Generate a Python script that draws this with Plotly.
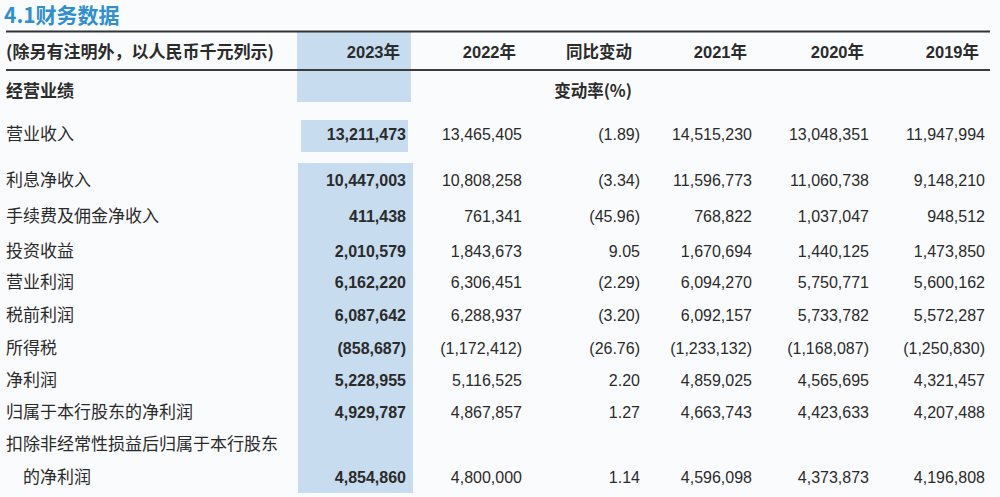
import plotly.graph_objects as go

# ---------------- data ----------------
title_text = "4.1财务数据"
unit_note = "(除另有注明外，以人民币千元列示)"
section_label = "经营业绩"
yoy_unit = "变动率(%)"
col_headers = ["2023年", "2022年", "同比变动", "2021年", "2020年", "2019年"]

row_labels = ["营业收入", "利息净收入", "手续费及佣金净收入", "投资收益", "营业利润",
              "税前利润", "所得税", "净利润", "归属于本行股东的净利润",
              "扣除非经常性损益后归属于本行股东"]
last_label_cont = "的净利润"

v2023 = [13211473, 10447003, 411438, 2010579, 6162220, 6087642, -858687, 5228955, 4929787, 4854860]
v2022 = [13465405, 10808258, 761341, 1843673, 6306451, 6288937, -1172412, 5116525, 4867857, 4800000]
yoy = [-1.89, -3.34, -45.96, 9.05, -2.29, -3.20, -26.76, 2.20, 1.27, 1.14]
v2021 = [14515230, 11596773, 768822, 1670694, 6094270, 6092157, -1233132, 4859025, 4663743, 4596098]
v2020 = [13048351, 11060738, 1037047, 1440125, 5750771, 5733782, -1168087, 4565695, 4423633, 4373873]
v2019 = [11947994, 9148210, 948512, 1473850, 5600162, 5572287, -1250830, 4321457, 4207488, 4196808]

# ---------------- layout constants ----------------
W, H = 1000, 497
ROW_Y = [136, 182, 218, 253, 284, 317, 350, 382, 414, 479]
LABEL_Y = [136, 182, 218, 253, 284, 317, 350, 382, 414, 446]
CONT_Y = 479
HEADER_Y = 54
SECTION_Y = 93
COL_X = [406, 522, 640, 752, 869, 985]
HEAD_X = [400, 516, 632, 747, 864, 979]
LABEL_X = 6
CONT_X = 23

TXT = "#2b2b2b"
NUM_FONT = "Liberation Sans, Noto Sans CJK SC, sans-serif"
CJK_FONT = "Noto Sans CJK SC, sans-serif"
HL = "#c8dcef"


def fmt_int(v):
    s = f"{abs(v):,}"
    return f"({s})" if v < 0 else s


def fmt_pct(v):
    s = f"{abs(v):.2f}"
    return f"({s})" if v < 0 else s


fig = go.Figure()

# value columns
cols = [v2023, v2022, yoy, v2021, v2020, v2019]
for ci, vals in enumerate(cols):
    if ci == 2:
        texts = [fmt_pct(v) for v in vals]
    else:
        texts = [fmt_int(v) for v in vals]
    if ci == 0:
        texts = [f"<b>{t}</b>" for t in texts]
    fig.add_trace(go.Scatter(
        x=[COL_X[ci]] * len(vals), y=ROW_Y, mode="text", text=texts,
        textposition="middle left", cliponaxis=False,
        textfont=dict(family=NUM_FONT, size=16, color=TXT),
        hoverinfo="skip", showlegend=False))

# row labels
fig.add_trace(go.Scatter(
    x=[LABEL_X] * len(row_labels), y=LABEL_Y, mode="text", text=row_labels,
    textposition="middle right", cliponaxis=False,
    textfont=dict(family=CJK_FONT, size=17, color=TXT),
    hoverinfo="skip", showlegend=False))
fig.add_trace(go.Scatter(
    x=[CONT_X], y=[CONT_Y], mode="text", text=[last_label_cont],
    textposition="middle right", cliponaxis=False,
    textfont=dict(family=CJK_FONT, size=17, color=TXT),
    hoverinfo="skip", showlegend=False))

# header row
fig.add_trace(go.Scatter(
    x=HEAD_X, y=[HEADER_Y] * len(col_headers), mode="text",
    text=[f"<b>{h}</b>" for h in col_headers],
    textposition="middle left", cliponaxis=False,
    textfont=dict(family=NUM_FONT, size=16.5, color=TXT),
    hoverinfo="skip", showlegend=False))
fig.add_trace(go.Scatter(
    x=[LABEL_X, LABEL_X], y=[HEADER_Y, SECTION_Y], mode="text",
    text=[f"<b>{unit_note}</b>", f"<b>{section_label}</b>"],
    textposition="middle right", cliponaxis=False,
    textfont=dict(family=CJK_FONT, size=17, color=TXT),
    hoverinfo="skip", showlegend=False))
fig.add_trace(go.Scatter(
    x=[HEAD_X[2]], y=[SECTION_Y], mode="text", text=[f"<b>{yoy_unit}</b>"],
    textposition="middle left", cliponaxis=False,
    textfont=dict(family=CJK_FONT, size=16.5, color=TXT),
    hoverinfo="skip", showlegend=False))

# title
fig.add_trace(go.Scatter(
    x=[4], y=[18], mode="text", text=[f"<b>{title_text}</b>"],
    textposition="middle right", cliponaxis=False,
    textfont=dict(family=CJK_FONT, size=21, color="#2f8fd2"),
    hoverinfo="skip", showlegend=False))

shapes = [
    dict(type="rect", x0=297, x1=411, y0=31, y1=102, fillcolor=HL, line_width=0, layer="below"),
    dict(type="rect", x0=301, x1=408, y0=120, y1=152, fillcolor=HL, line_width=0, layer="below"),
    dict(type="rect", x0=298, x1=413, y0=163, y1=493, fillcolor=HL, line_width=0, layer="below"),
    dict(type="line", x0=6, x1=990, y0=31.5, y1=31.5, line=dict(color="#333333", width=2)),
    dict(type="line", x0=6, x1=990, y0=70, y1=70, line=dict(color="#3c3c3c", width=2)),
]

fig.update_layout(
    width=W, height=H, margin=dict(l=0, r=0, t=0, b=0),
    paper_bgcolor="#fafbfc", plot_bgcolor="#fafbfc",
    shapes=shapes,
    xaxis=dict(range=[0, W], visible=False, fixedrange=True),
    yaxis=dict(range=[H, 0], visible=False, fixedrange=True),
)

fig.write_html("out.html", config={"displayModeBar": False},
               post_script="document.body.style.margin='0px';document.body.style.overflow='hidden';")
